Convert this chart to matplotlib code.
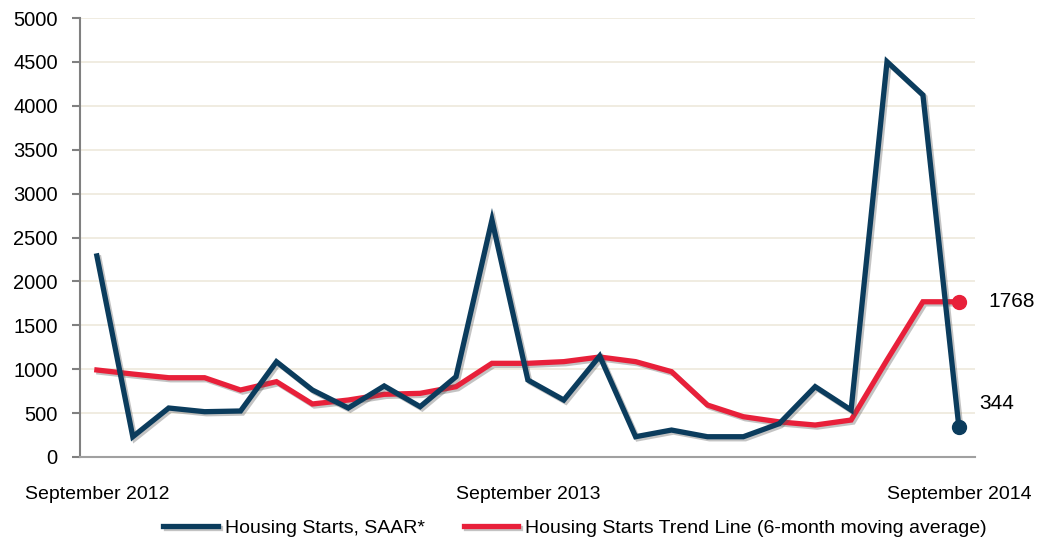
import matplotlib.pyplot as plt
import matplotlib.patheffects as pe

plt.rcParams['font.family'] = ['Liberation Sans', 'DejaVu Sans']

months = list(range(25))
tick_pos = [0, 12, 24]
tick_labels = ["September 2012", "September 2013", "September 2014"]

starts = [2290, 231, 558, 516, 524, 1085, 763, 558, 809, 573, 915, 2700, 877,
          649, 1150, 231, 307, 231, 231, 380, 801, 535, 4502, 4123, 344]
trend = [991, 945, 903, 903, 763, 858, 604, 649, 714, 725, 801, 1067, 1067,
         1086, 1139, 1086, 972, 592, 459, 400, 364, 421, 1105, 1768, 1768]

blue = "#0b3c5d"
red = "#e8203a"

fig = plt.figure(figsize=(10.42, 5.48), dpi=100)
ax = fig.add_axes([80/1042, 1 - 457/548, 895/1042, 439/548])

shadow = [pe.SimpleLineShadow(offset=(1.5, -1.5), shadow_color="#555555", alpha=0.35),
          pe.Normal()]

ax.plot(months, trend, color=red, lw=3.8, solid_joinstyle="miter", path_effects=shadow,
        label="Housing Starts Trend Line (6-month moving average)", zorder=3)
ax.plot(months, starts, color=blue, lw=3.8, solid_joinstyle="miter", path_effects=shadow,
        label="Housing Starts, SAAR*", zorder=4)
ax.plot(months[-1], trend[-1], "o", color=red, ms=10, zorder=5)
ax.plot(months[-1], starts[-1], "o", color=blue, ms=10, zorder=5)

ax.annotate(str(trend[-1]), (months[-1], trend[-1]), xytext=(21, 0),
            textcoords="offset points", va="center", fontsize=15, annotation_clip=False)
ax.annotate(str(starts[-1]), (months[-1], starts[-1]), xytext=(15, 17),
            textcoords="offset points", va="center", fontsize=15, annotation_clip=False)

ax.set_xlim(-0.47, 24.45)
ax.set_ylim(0, 5000)
ax.set_yticks(range(0, 5001, 500))
ax.set_xticks(tick_pos)
ax.set_xticklabels(tick_labels)
ax.tick_params(axis="y", labelsize=14.5, length=6, color="#808080", width=1.5, pad=10)
ax.tick_params(axis="x", labelsize=14, length=0, pad=21)
ax.yaxis.grid(True, color="#ede9dc", lw=1.2)
ax.set_axisbelow(True)
for s in ["top", "right"]:
    ax.spines[s].set_visible(False)
ax.spines["left"].set_color("#808080")
ax.spines["left"].set_linewidth(1.5)
ax.spines["bottom"].set_color("#a0a0a0")
ax.spines["bottom"].set_linewidth(1.5)

h, l = ax.get_legend_handles_labels()
fig.legend(h[::-1], l[::-1], loc="center", bbox_to_anchor=(575/1042, 1 - 528/548),
           ncol=2, frameon=False, fontsize=14, handlelength=2.8, columnspacing=2.0,
           handletextpad=0.35)

fig.savefig("out.png", dpi=100)
